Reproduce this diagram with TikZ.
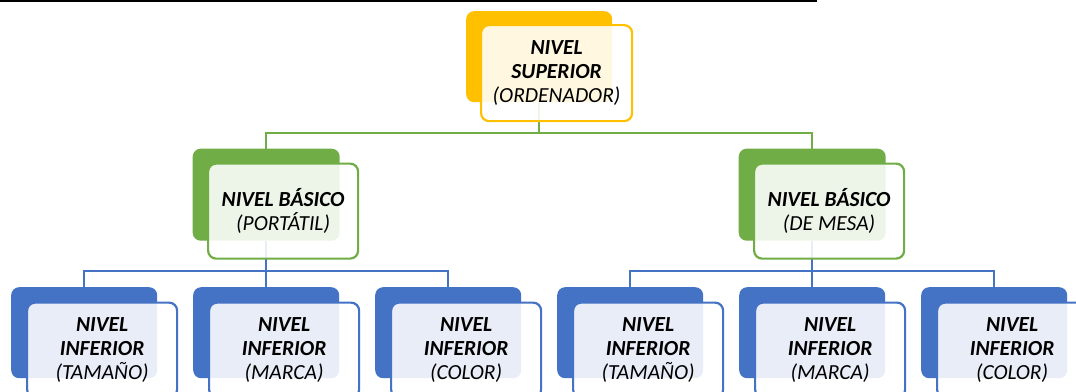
\documentclass[tikz,border=0pt]{standalone}
\usepackage{fontspec}
\setmainfont{Carlito}
\begin{document}
\begin{tikzpicture}[x=1pt,y=-1pt,
  back/.style={rounded corners=8pt, draw=none, anchor=north west, inner sep=0pt},
  front/.style={rounded corners=8pt, line width=2.2pt, fill=white, fill opacity=0.88,
    text opacity=1, anchor=north west, align=center, inner sep=0pt,
    font=\fontsize{21.5}{24}\selectfont\itshape, text=black},
  link/.style={line width=2.2pt},
  backA/.style={back, fill=yellowA, minimum width=146pt, minimum height=91pt},
  backB/.style={back, fill=greenB, minimum width=147pt, minimum height=92pt},
  backC/.style={back, fill=blueC, minimum width=146pt, minimum height=91pt},
  frontA/.style={front, draw=yellowA, minimum width=151pt, minimum height=96pt},
  frontB/.style={front, draw=greenB, minimum width=150pt, minimum height=95pt},
  frontC/.style={front, draw=blueC, minimum width=150pt, minimum height=95pt},
]
\definecolor{yellowA}{HTML}{FFC000}
\definecolor{greenB}{HTML}{70AD47}
\definecolor{blueC}{HTML}{4472C4}
\clip (0,0) rectangle (1076,391);
\fill[white] (0,0) rectangle (1076,391);

% rule across the top
\draw[line width=2.2pt] (0,1) -- (817,1);

% coloured back plates
\node[backA] (top-b) at (466,11) {};
\node[backB] (pc-b)  at (192.5,148.5) {};
\node[backB] (dk-b)  at (738.5,148.5) {};
\foreach \x [count=\i] in {11,193,375,557,739,921}
  \node[backC] (l3-\i-b) at (\x,287) {};

% tree connectors
\draw[link, greenB] (top-b.south) -- (top-b.south |- 0,133);
\draw[link, greenB] (pc-b.north) -- (pc-b.north |- 0,133) -| (dk-b.north);
\draw[link, blueC] (pc-b.south) -- (pc-b.south |- 0,271);
\draw[link, blueC] (l3-1-b.north) -- (l3-1-b.north |- 0,271) -| (l3-3-b.north);
\draw[link, blueC] (l3-2-b.north) -- (l3-2-b.north |- 0,271);
\draw[link, blueC] (dk-b.south) -- (dk-b.south |- 0,271);
\draw[link, blueC] (l3-4-b.north) -- (l3-4-b.north |- 0,271) -| (l3-6-b.north);
\draw[link, blueC] (l3-5-b.north) -- (l3-5-b.north |- 0,271);

% front cards with the labels
\node[frontA] (top) at (480,24) {\textbf{NIVEL}\\\textbf{SUPERIOR}\\(ORDENADOR)};
\node[frontB] (pc) at (207,162.5) {\textbf{NIVEL BÁSICO}\\(PORTÁTIL)};
\node[frontB] (dk) at (753,162.5) {\textbf{NIVEL BÁSICO}\\(DE MESA)};
\foreach \x/\t [count=\i] in {26/TAMAÑO,208/MARCA,390/COLOR,572/TAMAÑO,754/MARCA,936/COLOR}
  \node[frontC] (l3-\i) at (\x,301.5) {\textbf{NIVEL}\\\textbf{INFERIOR}\\(\t)};
\end{tikzpicture}
\end{document}
